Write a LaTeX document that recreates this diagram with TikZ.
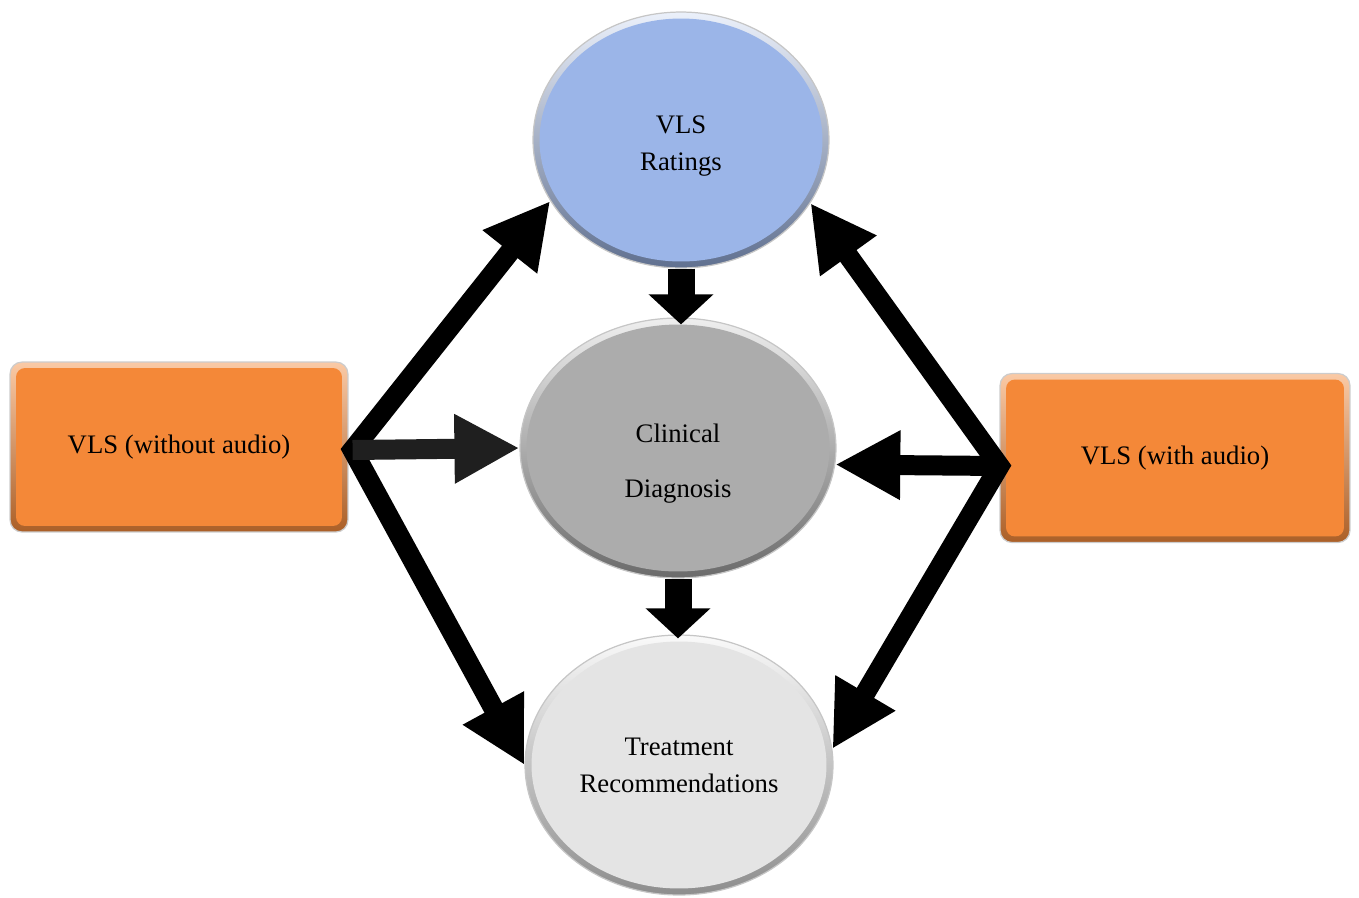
\documentclass[tikz,border=0pt]{standalone}
\usepackage{fontspec}
\setmainfont{Liberation Serif}
\usetikzlibrary{shapes.geometric,arrows.meta,calc}
\definecolor{vlsblue}{RGB}{155,181,232}
\definecolor{midgray}{RGB}{172,172,172}
\definecolor{paleg}{RGB}{228,228,228}
\definecolor{vlsorange}{RGB}{244,136,56}
\tikzset{
  txt/.style={font=\fontsize{15.2}{21}\selectfont, text=black, align=center},
  oval/.style n args={3}{ellipse, inner sep=0pt, minimum width=#2, minimum height=#3,
    draw=gray!45, line width=0.7pt, top color=#1!20!white, bottom color=#1!62!black,
    path picture={\fill[#1] (path picture bounding box.center) ellipse [x radius=#2/2-0.13cm, y radius=#3/2-0.13cm];}},
  srcbox/.style n args={2}{rectangle, rounded corners=0.24cm, minimum width=#1, minimum height=#2,
    draw=gray!40, line width=0.7pt, top color=vlsorange!45!white, bottom color=vlsorange!70!black,
    path picture={\fill[vlsorange, rounded corners=0.18cm]
      ([shift={(0.12cm,-0.12cm)}]path picture bounding box.north west) rectangle
      ([shift={(-0.12cm,0.12cm)}]path picture bounding box.south east);}},
  bigarrow/.style={line width=0.4cm, line join=miter, miter limit=10, draw=black},
  headboth/.style={{Triangle[length=1.3cm,width=1.3cm]}-{Triangle[length=1.3cm,width=1.3cm]}},
  headone/.style={-{Triangle[length=1.3cm,width=1.3cm]}},
  downarrow/.style={line width=0.54cm, draw=black, -{Triangle[length=0.6cm,width=1.26cm]}}
}
\begin{document}
\begin{tikzpicture}[x=0.02cm, y=-0.02cm]
  \useasboundingbox (0,0) rectangle (1359,897);
  % nodes
  \node[oval={vlsblue}{5.92cm}{5.12cm}, txt] (ratings) at (681,140) {\rule{0pt}{0.6cm}VLS\\Ratings};
  \node[oval={midgray}{6.32cm}{5.2cm}, txt] (diag) at (678,448) {\rule{0pt}{1.0cm}Clinical\\[10pt]Diagnosis};
  \node[oval={paleg}{6.16cm}{5.2cm}, txt] (treat) at (679,765) {Treatment\\Recommendations};
  \node[srcbox={6.76cm}{3.4cm}, txt] (wo) at (179,447) {VLS (without audio)};
  \node[srcbox={7.0cm}{3.38cm}, txt] (wa) at (1175,458) {VLS (with audio)};
  % convergence points
  \coordinate (lsrc) at ([xshift=0.08cm, yshift=-0.06cm]wo.east);
  \coordinate (rsrc) at ([yshift=-0.16cm]wa.west);
  % left arrows
  \draw[bigarrow, headboth] (ratings.205) -- (lsrc) -- (treat.180);
  \draw[bigarrow, headone, draw=black!88] (lsrc) -- (diag.180);
  % right arrows
  \draw[bigarrow, headboth] (ratings.334) -- (rsrc) -- (treat.6);
  \draw[bigarrow, headone] (rsrc) -- (diag.354);
  % vertical arrows
  \draw[downarrow, shorten >=-0.14cm] (ratings.south) -- (ratings.south |- diag.north);
  \draw[downarrow, shorten >=-0.08cm] (diag.south) -- (diag.south |- treat.north);
\end{tikzpicture}
\end{document}
